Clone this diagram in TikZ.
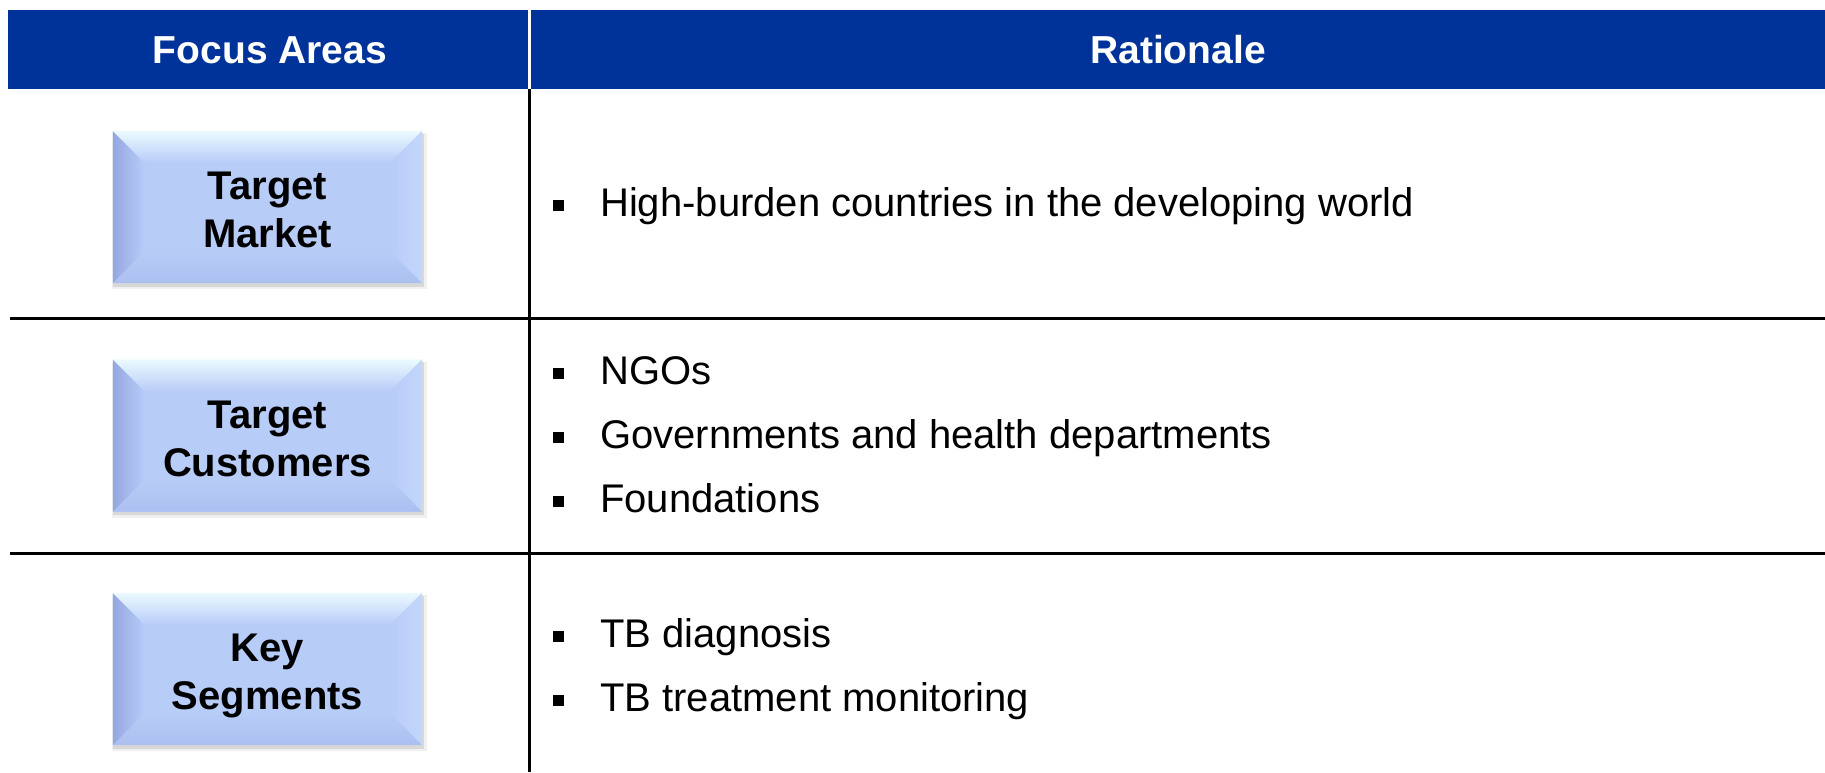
\documentclass[tikz,border=0pt]{standalone}
\usepackage{fontspec}
\setmainfont{Liberation Sans}
\usetikzlibrary{calc}
\definecolor{hdrblue}{RGB}{0,51,153}
\definecolor{boxbase}{RGB}{184,204,248}
\definecolor{bevleft}{RGB}{148,168,224}
\definecolor{bevtop}{RGB}{235,250,255}
\definecolor{bevright}{RGB}{196,214,250}
\definecolor{bevbot}{RGB}{172,192,240}
\tikzset{
  hdr/.style={fill=hdrblue, draw=none, inner sep=0, anchor=north west, minimum height=79pt},
  hdrtext/.style={text=white, font=\bfseries\fontsize{39}{47}\selectfont, anchor=base, inner sep=0},
  rulebold/.style={line width=3pt, black},
  focusbox/.style={minimum width=309pt, minimum height=152pt, inner sep=0, fill=boxbase, draw=none},
  shadowbox/.style={minimum width=309pt, minimum height=152pt, inner sep=0, fill=black, draw=none},
  focustext/.style={font=\bfseries\fontsize{40}{48}\selectfont, align=center, text depth=0pt, inner sep=0, yshift=-3pt},
  bodytext/.style={font=\fontsize{40}{48}\selectfont, anchor=base west, inner sep=0},
  bulletsq/.style={fill=black, minimum size=11pt, inner sep=0}
}
\newcommand{\bevelbox}[3]{%
  \node[shadowbox, opacity=0.06, minimum width=315pt, minimum height=156pt] (#1s1) at ($(#2)+(2,4)$) {};
  \node[shadowbox, opacity=0.10, minimum width=311pt, minimum height=153pt] (#1s2) at ($(#2)+(1,3)$) {};
  \node[focusbox] (#1) at (#2) {};
  \shade[left color=bevleft, right color=boxbase]
    (#1.north west) -- (#1.south west) -- ($(#1.south west)+(32,-32)$) -- ($(#1.north west)+(32,32)$) -- cycle;
  \shade[top color=bevtop, bottom color=boxbase]
    (#1.north west) -- (#1.north east) -- ($(#1.north east)+(-32,32)$) -- ($(#1.north west)+(32,32)$) -- cycle;
  \shade[left color=boxbase, right color=bevright]
    (#1.north east) -- (#1.south east) -- ($(#1.south east)+(-32,-32)$) -- ($(#1.north east)+(-32,32)$) -- cycle;
  \shade[top color=boxbase, bottom color=bevbot]
    (#1.south west) -- (#1.south east) -- ($(#1.south east)+(-32,-32)$) -- ($(#1.south west)+(32,-32)$) -- cycle;
  \node[focustext] (#1t) at (#1.center) {#3};
}
\newcommand{\bulletline}[3]{%
  \node[bulletsq] (#1b) at (558,#2-10.5) {};
  \node[bodytext] (#1) at (600,#2) {#3};
}
\begin{document}
\begin{tikzpicture}[x=1pt,y=-1pt]
\useasboundingbox (0,0) rectangle (1825,772);
% header
\node[hdr, minimum width=520pt] (hdrA) at (8,10) {};
\node[hdr, minimum width=1294pt] (hdrB) at (531,10) {};
\node[hdrtext] (hdrAt) at (270,63) {Focus Areas};
\node[hdrtext] (hdrBt) at (1178,63) {Rationale};
% grid
\coordinate (vtop) at (529.5,89);
\coordinate (vbot) at (529.5,772);
\coordinate (h1l) at (10,318);
\coordinate (h1r) at (1825,318);
\coordinate (h2l) at (10,553.5);
\coordinate (h2r) at (1825,553.5);
\draw[rulebold] (vtop) -- (vbot);
\draw[rulebold] (h1l) -- (h1r);
\draw[rulebold] (h2l) -- (h2r);
% focus boxes
\bevelbox{fa}{267.5,207}{Target\\Market}
\bevelbox{fb}{267.5,435.5}{Target\\Customers}
\bevelbox{fc}{267.5,669}{Key\\Segments}
% rationale
\bulletline{ra}{216}{High-burden countries in the developing world}
\bulletline{rb}{384}{NGOs}
\bulletline{rc}{448}{Governments and health departments}
\bulletline{rd}{512}{Foundations}
\bulletline{re}{647}{TB diagnosis}
\bulletline{rf}{711}{TB treatment monitoring}
\end{tikzpicture}
\end{document}
